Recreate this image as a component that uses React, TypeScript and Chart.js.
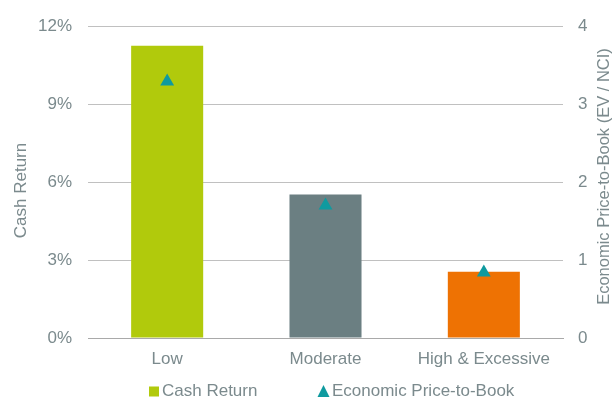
import React, { useEffect, useRef } from 'react';
import { Chart, registerables } from 'chart.js';
Chart.register(...registerables);

const categories = ['Low', 'Moderate', 'High & Excessive'];
const cashReturn = [11.25, 5.52, 2.55];
const priceToBook = [3.29, 1.7, 0.84];
const barColors = ['#b1ca0c', '#6b7f82', '#ee7203'];
const markerColor = '#0f9a9f';
const seriesNames = ['Cash Return', 'Economic Price-to-Book'];
const leftAxisTitle = 'Cash Return';
const rightAxisTitle = 'Economic Price-to-Book (EV / NCI)';

const TEXT = '#7b8a8d';
const FONT = '"Liberation Sans", Arial, sans-serif';

export default function App() {
  const ref = useRef<HTMLCanvasElement>(null);
  useEffect(() => {
    document.body.style.margin = '0';
    const extras = {
      id: 'extras',
      afterDraw(chart: any) {
        const ctx = chart.ctx as CanvasRenderingContext2D;
        ctx.save();
        ctx.fillStyle = TEXT;
        ctx.textAlign = 'center';
        ctx.textBaseline = 'middle';
        ctx.font = `17px ${FONT}`;
        ctx.save();
        ctx.translate(21.5, 190.5);
        ctx.rotate(-Math.PI / 2);
        ctx.fillText(leftAxisTitle, 0, 0);
        ctx.restore();
        ctx.save();
        ctx.font = `16.5px ${FONT}`;
        ctx.translate(604, 176.5);
        ctx.rotate(-Math.PI / 2);
        ctx.fillText(rightAxisTitle, 0, 0);
        ctx.restore();
        // legend
        const ly = 391.5;
        ctx.fillStyle = barColors[0];
        ctx.fillRect(149, ly - 5, 10, 10);
        ctx.fillStyle = markerColor;
        ctx.beginPath();
        ctx.moveTo(323.5, ly - 6.5);
        ctx.lineTo(329.5, ly + 5.5);
        ctx.lineTo(317.5, ly + 5.5);
        ctx.closePath();
        ctx.fill();
        ctx.fillStyle = TEXT;
        ctx.textAlign = 'left';
        ctx.font = `17px ${FONT}`;
        ctx.fillText(seriesNames[0], 162, ly);
        ctx.fillText(seriesNames[1], 332, ly);
        ctx.restore();
      },
    };
    const chart = new Chart(ref.current!, {
      type: 'bar',
      data: {
        labels: categories,
        datasets: [
          {
            type: 'line',
            label: seriesNames[1],
            data: priceToBook,
            yAxisID: 'y1',
            showLine: false,
            pointStyle: 'triangle',
            pointRadius: 8,
            pointBackgroundColor: markerColor,
            pointBorderColor: markerColor,
            pointBorderWidth: 0,
            order: 0,
          } as any,
          {
            type: 'bar',
            label: seriesNames[0],
            data: cashReturn,
            yAxisID: 'y',
            backgroundColor: barColors,
            categoryPercentage: 1,
            barPercentage: 0.455,
            order: 1,
          },
        ],
      },
      options: {
        responsive: false,
        animation: false,
        layout: { padding: { top: 23, left: 0, right: 0, bottom: 0 } },
        plugins: { legend: { display: false }, tooltip: { enabled: false } },
        scales: {
          x: {
            grid: { display: false, drawTicks: false },
            border: { display: true, color: '#a9a9a9', width: 1 },
            ticks: { color: TEXT, font: { size: 17, family: FONT }, padding: 11, maxRotation: 0 },
            afterFit(s: any) { s.height = 61; },
          },
          y: {
            position: 'left',
            min: 0,
            max: 12,
            ticks: { stepSize: 3, callback: (v: any) => v + '%', color: TEXT, font: { size: 17, family: FONT }, padding: 16 },
            grid: { color: '#c0c0c0', drawTicks: false, lineWidth: 1 },
            border: { display: false },
            afterFit(s: any) { s.width = 88; },
          },
          y1: {
            position: 'right',
            min: 0,
            max: 4,
            ticks: { stepSize: 1, color: TEXT, font: { size: 17, family: FONT }, padding: 15 },
            grid: { display: false, drawTicks: false },
            border: { display: false },
            afterFit(s: any) { s.width = 49; },
          },
        },
      },
      plugins: [extras],
    });
    return () => chart.destroy();
  }, []);
  return <canvas ref={ref} width={612} height={399} style={{ display: 'block' }} />;
}
